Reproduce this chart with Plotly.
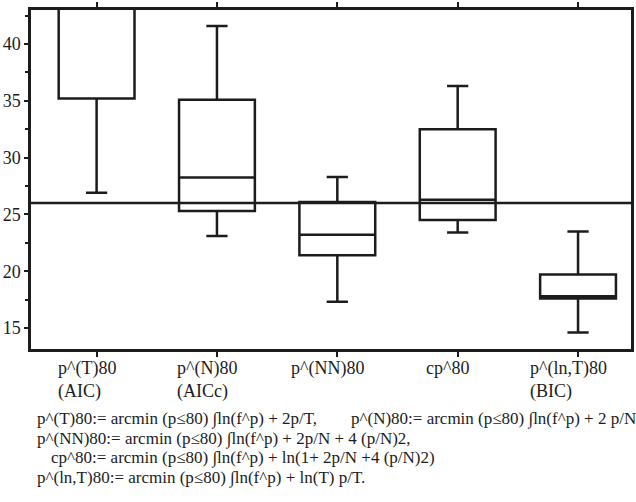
import plotly.graph_objects as go

# ---- data ----
categories = ["p^(T)80<br>(AIC)", "p^(N)80<br>(AICc)", "p^(NN)80", "cp^80", "p^(ln,T)80<br>(BIC)"]
q1 = [35.2, 25.3, 21.4, 24.5, 17.6]
median = [44.0, 28.25, 23.2, 26.3, 17.8]
q3 = [46.0, 35.1, 26.1, 32.5, 19.7]
lowerfence = [26.9, 23.1, 17.3, 23.4, 14.6]
upperfence = [48.0, 41.6, 28.3, 36.3, 23.5]
reference_value = 26.0
y_ticks = [15, 20, 25, 30, 35, 40]
formulas = [
    "p^(T)80:= arcmin (p≤80) ∫ln(f^p) + 2p/T,",
    "p^(NN)80:= arcmin (p≤80) ∫ln(f^p) + 2p/N + 4 (p/N)2,",
    "cp^80:= arcmin (p≤80) ∫ln(f^p) + ln(1+ 2p/N +4 (p/N)2)",
    "p^(ln,T)80:= arcmin (p≤80) ∫ln(f^p) + ln(T) p/T.",
]
formula_extra = "p^(N)80:= arcmin (p≤80) ∫ln(f^p) + 2 p/N"

ink = "#1c1c1c"
serif = "Liberation Serif, Times New Roman, Times, serif"
xpos = list(range(len(categories)))

fig = go.Figure()
fig.add_trace(go.Box(
    x=xpos, q1=q1, median=median, q3=q3,
    lowerfence=lowerfence, upperfence=upperfence,
    width=0.63, whiskerwidth=0.28,
    line=dict(color=ink, width=2.5),
    fillcolor="rgba(0,0,0,0)",
    boxpoints=False, showlegend=False, hoverinfo="skip",
))

fig.add_shape(type="line", xref="paper", yref="y", x0=0, x1=1,
              y0=reference_value, y1=reference_value,
              line=dict(color=ink, width=2.5))

annotations = []
for i, lab in enumerate(categories):
    annotations.append(dict(
        xref="x", yref="paper", x=i, y=0, xanchor="center", yanchor="top",
        xshift=-10, yshift=-7, align="left", showarrow=False, text=lab,
        font=dict(family=serif, size=18, color=ink)))

line_shifts = [-70, -90, -109, -129]
indent = [4, 4, 18, 4]
for k, txt in enumerate(formulas):
    annotations.append(dict(
        xref="paper", yref="paper", x=0, y=0, xanchor="left", yanchor="middle",
        xshift=indent[k], yshift=line_shifts[k], showarrow=False, text=txt,
        font=dict(family=serif, size=17, color=ink)))
annotations.append(dict(
    xref="paper", yref="paper", x=0, y=0, xanchor="left", yanchor="middle",
    xshift=318, yshift=line_shifts[0], showarrow=False, text=formula_extra,
    font=dict(family=serif, size=17, color=ink)))

fig.update_layout(
    width=636, height=502,
    margin=dict(l=31, r=2, t=10, b=153),
    paper_bgcolor="white", plot_bgcolor="white",
    font=dict(family=serif, color=ink),
    annotations=annotations,
    xaxis=dict(range=[-0.545, 4.44], tickvals=xpos, showticklabels=False,
               ticks="outside", ticklen=5, tickwidth=2, tickcolor=ink,
               showline=True, linewidth=2.5, linecolor=ink, mirror="ticks",
               showgrid=False, zeroline=False),
    yaxis=dict(range=[13.15, 43.0], tickvals=y_ticks,
               ticks="outside", ticklen=4, tickwidth=2, tickcolor=ink,
               minor=dict(ticks="outside", ticklen=3, tickwidth=1.5, dtick=2.5, tick0=0, tickcolor=ink),
               showline=True, linewidth=2.5, linecolor=ink, mirror=True,
               showgrid=False, zeroline=False,
               tickfont=dict(family=serif, size=18, color=ink)),
)

fig.write_html("out.html", config={"displayModeBar": False},
               post_script="document.body.style.margin='0';document.body.style.overflow='hidden';")
